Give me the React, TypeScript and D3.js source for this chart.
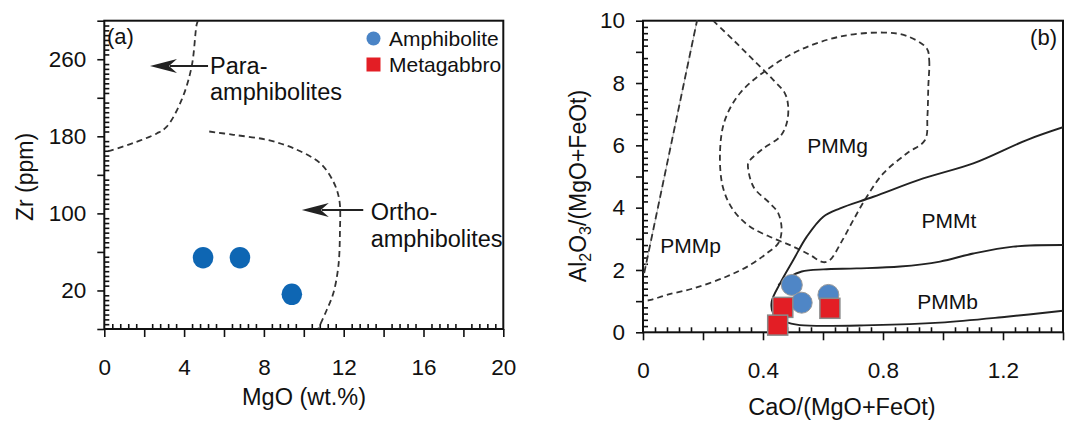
import React, { useEffect, useRef } from "react";
import * as d3 from "d3";

// (a) Zr (ppm) vs MgO (wt.%)
const amphMgO = [4.95, 6.8, 9.4];
const amphZr = [54, 54, 16];

// (b) Al2O3/(MgO+FeOt) vs CaO/(MgO+FeOt)
const amphCaO = [0.496, 0.529, 0.618];
const amphAl = [1.52, 0.95, 1.2];
const gabbCaO = [0.466, 0.449, 0.623];
const gabbAl = [0.8, 0.23, 0.77];

const aXLabels = [0, 4, 8, 12, 16, 20];
const aYLabels = [20, 100, 180, 260];
const bXLabels = [0, 0.4, 0.8, 1.2];
const bYLabels = [0, 2, 4, 6, 8, 10];

// field boundaries, panel (a)
const paraLine = [[4.7, 300], [4.63, 296], [4.38, 252.5], [3.88, 218], [3.13, 190], [2.63, 183], [1.45, 173], [0.1, 164.2], [0, 164]];
const orthoLine = [[5.26, 185], [6.47, 181.6], [8.14, 176.4], [9.47, 167.7], [10.81, 152.2], [11.48, 133], [11.78, 114], [11.81, 79.4], [11.73, 44.7], [11.48, 17.1], [11.15, -0.3], [10.73, -19.5]];

// field boundaries, panel (b)
const pmmpLine = [[0.004, 1.9], [0.18, 10]];
const pmmgLine = [[0.234, 10], [0.301, 9.38], [0.368, 8.74], [0.434, 8.1], [0.473, 7.67], [0.484, 7.24], [0.479, 6.71], [0.457, 6.28], [0.401, 5.9], [0.357, 5.53], [0.35, 5.42], [0.368, 4.67], [0.423, 4.14], [0.451, 3.82], [0.462, 3.28], [0.451, 2.86], [0.412, 2.53], [0.357, 2.16], [0.279, 1.79], [0.168, 1.41], [0.079, 1.2], [0.026, 1.04], [0, 1.0]];
const pmmgLoop = [[0.946, 9.11], [0.954, 8.74], [0.951, 7.88], [0.948, 6.92], [0.94, 6.17], [0.879, 5.74], [0.801, 5.1], [0.746, 4.35], [0.701, 3.6], [0.662, 2.91], [0.623, 2.32], [0.601, 2.25], [0.557, 2.48], [0.501, 2.75], [0.434, 3.02], [0.357, 3.39], [0.301, 3.92], [0.266, 4.67], [0.257, 5.85], [0.273, 6.81], [0.323, 7.67], [0.412, 8.42], [0.523, 9.06], [0.657, 9.49], [0.801, 9.62], [0.879, 9.51]];
const pmmtLine = [[1.4, 6.58], [1.279, 6.17], [1.101, 5.42], [0.934, 4.94], [0.768, 4.35], [0.657, 3.98], [0.601, 3.71], [0.546, 3.07], [0.501, 2.32], [0.457, 1.57], [0.429, 0.98], [0.434, 0.61], [0.473, 0.34], [0.523, 0.23], [0.768, 0.23], [0.99, 0.31], [1.212, 0.5], [1.4, 0.69]];
const pmmbLine = [[1.4, 2.8], [1.234, 2.75], [1.101, 2.53], [0.99, 2.27], [0.857, 2.11], [0.712, 2.05], [0.601, 2.02], [0.529, 1.95], [0.49, 1.79], [0.451, 1.52]];

const fieldNames = ["PMMg", "PMMt", "PMMp", "PMMb"];
const fieldX = [0.649, 1.02, 0.159, 1.015];
const fieldY = [6.0, 3.58, 2.77, 0.98];

const FONT = "'Liberation Sans', Arial, Helvetica, sans-serif";

function near(list, v) {
  return list.some((d) => Math.abs(d - v) < 1e-6);
}

function axes(g, x, y, xMajor, xMinor, xLab, yMajor, yMinor, yLab) {
  const [x0, x1] = x.range();
  const [y0, y1] = y.range();

  // minor ticks point inward, majors outward
  g.append("g").attr("transform", "translate(0," + y0 + ")")
    .call(d3.axisBottom(x).tickValues(xMinor).tickSize(-5).tickSizeOuter(0).tickFormat(() => ""));
  g.append("g").attr("transform", "translate(0," + y0 + ")")
    .call(
      d3.axisBottom(x).tickValues(xMajor).tickSize(8).tickSizeOuter(0).tickPadding(22)
        .tickFormat((d) => (near(xLab, d) ? String(+d.toFixed(2)) : ""))
    );

  g.append("g").attr("transform", "translate(" + x0 + ",0)")
    .call(d3.axisLeft(y).tickValues(yMinor).tickSize(-5).tickSizeOuter(0).tickFormat(() => ""));
  g.append("g").attr("transform", "translate(" + x0 + ",0)")
    .call(
      d3.axisLeft(y).tickValues(yMajor).tickSize(7).tickSizeOuter(0).tickPadding(11)
        .tickFormat((d) => (near(yLab, d) ? String(+d.toFixed(2)) : ""))
    );

  g.selectAll(".domain").remove();
  g.selectAll(".tick line").attr("stroke", "#111").attr("stroke-width", 1.6);
  g.selectAll(".tick text").attr("font-family", FONT).attr("font-size", 22.5).attr("fill", "#111");

  g.append("rect")
    .attr("x", x0).attr("y", y1)
    .attr("width", x1 - x0).attr("height", y0 - y1)
    .attr("fill", "none").attr("stroke", "#111").attr("stroke-width", 2);
}

function arrow(g, xs, ys, xFrom, xTo, yv) {
  const px1 = xs(xFrom), px2 = xs(xTo), py = ys(yv);
  g.append("line").attr("x1", px1).attr("x2", px2 + 20).attr("y1", py).attr("y2", py)
    .attr("stroke", "#222").attr("stroke-width", 2);
  g.append("path")
    .attr("d", `M${px2},${py} L${px2 + 27},${py - 7} L${px2 + 19},${py} L${px2 + 27},${py + 7} Z`)
    .attr("fill", "#222");
}

function label(g, px, py, txt, size, anchor) {
  return g.append("text").attr("x", px).attr("y", py)
    .attr("font-family", FONT).attr("font-size", size).attr("fill", "#111")
    .attr("text-anchor", anchor || "start").text(txt);
}

export default function App() {
  const ref = useRef(null);

  useEffect(() => {
    const svg = d3.select(ref.current);
    svg.selectAll("*").remove();
    const defs = svg.append("defs");

    // ---------- panel (a)
    const xa = d3.scaleLinear().domain([0, 20]).range([104.3, 503.3]);
    const ya = d3.scaleLinear().domain([-20, 300]).range([329, 20.7]);
    const ga = svg.append("g");

    const aXMajor = d3.range(0, 20.001, 2);
    const aXMinor = d3.range(0, 20.001, 0.4).filter((v) => !near(aXMajor, v));
    const aYMajor = d3.range(-20, 300.001, 40);
    const aYMinor = d3.range(-20, 300.001, 5).filter((v) => !near(aYMajor, v));
    axes(ga, xa, ya, aXMajor, aXMinor, aXLabels, aYMajor, aYMinor, aYLabels);

    defs.append("clipPath").attr("id", "clipA")
      .append("rect").attr("x", 104.3).attr("y", 20.7).attr("width", 399).attr("height", 308.3);

    const lineA = d3.line().x((d) => xa(d[0])).y((d) => ya(d[1])).curve(d3.curveCatmullRom.alpha(0.5));
    [paraLine, orthoLine].forEach((l) => {
      ga.append("path").attr("d", lineA(l)).attr("clip-path", "url(#clipA)")
        .attr("fill", "none").attr("stroke", "#333").attr("stroke-width", 1.8)
        .attr("stroke-dasharray", "6,4");
    });

    ga.selectAll(".amph").data(amphMgO).enter().append("ellipse")
      .attr("cx", (d) => xa(d)).attr("cy", (d, i) => ya(amphZr[i]))
      .attr("rx", 10.3).attr("ry", 10.8).attr("fill", "#0e66b3");

    arrow(ga, xa, ya, 5.2, 2.29, 253);
    arrow(ga, xa, ya, 12.98, 9.9, 103.6);
    label(ga, xa(5.3), ya(245), "Para-", 23.5);
    label(ga, xa(5.3), ya(218), "amphibolites", 23.5);
    label(ga, xa(13.35), ya(93.2), "Ortho-", 23.5);
    label(ga, xa(13.35), ya(65.5), "amphibolites", 23.5);
    label(ga, 107, 44, "(a)", 22);

    // legend
    ga.append("circle").attr("cx", 373.5).attr("cy", 38.5).attr("r", 7).attr("fill", "#4a84c6");
    label(ga, 389, 46, "Amphibolite", 21);
    ga.append("rect").attr("x", 366.5).attr("y", 57.5).attr("width", 14).attr("height", 14).attr("fill", "#e31e25");
    label(ga, 389, 72, "Metagabbro", 21);

    label(ga, 304, 405, "MgO (wt.%)", 23.5, "middle");
    ga.append("text").attr("transform", "translate(33,177) rotate(-90)")
      .attr("font-family", FONT).attr("font-size", 23).attr("fill", "#111")
      .attr("text-anchor", "middle").text("Zr (ppm)");

    // ---------- panel (b)
    const xb = d3.scaleLinear().domain([0, 1.4]).range([643, 1063]);
    const yb = d3.scaleLinear().domain([0, 10]).range([332.3, 20.7]);
    const gb = svg.append("g");

    const bXMajor = d3.range(0, 1.4001, 0.2).map((v) => +v.toFixed(2));
    const bXMinor = d3.range(0, 1.4001, 0.04).map((v) => +v.toFixed(2)).filter((v) => !near(bXMajor, v));
    const bYMajor = d3.range(0, 10.001, 1);
    const bYMinor = d3.range(0, 10.001, 0.2).map((v) => +v.toFixed(2)).filter((v) => !near(bYMajor, v));
    axes(gb, xb, yb, bXMajor, bXMinor, bXLabels, bYMajor, bYMinor, bYLabels);

    defs.append("clipPath").attr("id", "clipB")
      .append("rect").attr("x", 643).attr("y", 20.7).attr("width", 420).attr("height", 311.6);

    const lineB = d3.line().x((d) => xb(d[0])).y((d) => yb(d[1])).curve(d3.curveCatmullRom.alpha(0.5));
    const loopB = d3.line().x((d) => xb(d[0])).y((d) => yb(d[1])).curve(d3.curveCatmullRomClosed.alpha(0.5));

    gb.append("path").attr("d", lineB(pmmpLine)).attr("fill", "none")
      .attr("stroke", "#bbb").attr("stroke-width", 1);
    gb.append("path").attr("d", lineB(pmmpLine)).attr("fill", "none").attr("clip-path", "url(#clipB)")
      .attr("stroke", "#333").attr("stroke-width", 1.8).attr("stroke-dasharray", "7,4");
    gb.append("path").attr("d", lineB(pmmgLine)).attr("fill", "none").attr("clip-path", "url(#clipB)")
      .attr("stroke", "#333").attr("stroke-width", 1.8).attr("stroke-dasharray", "6,4");
    gb.append("path").attr("d", loopB(pmmgLoop)).attr("fill", "none").attr("clip-path", "url(#clipB)")
      .attr("stroke", "#333").attr("stroke-width", 1.8).attr("stroke-dasharray", "6,4");
    [pmmtLine, pmmbLine].forEach((l) => {
      gb.append("path").attr("d", lineB(l)).attr("fill", "none").attr("clip-path", "url(#clipB)")
        .attr("stroke", "#222").attr("stroke-width", 1.9);
    });

    fieldNames.forEach((n, i) => {
      label(gb, xb(fieldX[i]), yb(fieldY[i]), n, 21, "middle").attr("dy", "0.35em");
    });

    gb.selectAll(".amphB").data(amphCaO).enter().append("circle")
      .attr("cx", (d) => xb(d)).attr("cy", (d, i) => yb(amphAl[i]))
      .attr("r", 10.5).attr("fill", "#4f86c6").attr("stroke", "#999").attr("stroke-width", 1);
    gb.selectAll(".gabbB").data(gabbCaO).enter().append("rect")
      .attr("x", (d) => xb(d) - 10).attr("y", (d, i) => yb(gabbAl[i]) - 10)
      .attr("width", 20).attr("height", 20)
      .attr("fill", "#e31e25").attr("stroke", "#8a8a8a").attr("stroke-width", 1.5);

    label(gb, 1057, 45, "(b)", 22, "end");
    label(gb, 842, 415, "CaO/(MgO+FeOt)", 23.5, "middle");

    const yt = gb.append("text").attr("transform", "translate(586,186) rotate(-90)")
      .attr("font-family", FONT).attr("font-size", 23).attr("fill", "#111")
      .attr("text-anchor", "middle");
    yt.append("tspan").text("Al");
    yt.append("tspan").attr("dy", 5).attr("font-size", 16).text("2");
    yt.append("tspan").attr("dy", -5).text("O");
    yt.append("tspan").attr("dy", 5).attr("font-size", 16).text("3");
    yt.append("tspan").attr("dy", -5).text("/(MgO+FeOt)");
  }, []);

  return (
    <svg
      ref={ref}
      width={1067}
      height={422}
      style={{ position: "absolute", left: 0, top: 0, background: "#fff" }}
    />
  );
}
